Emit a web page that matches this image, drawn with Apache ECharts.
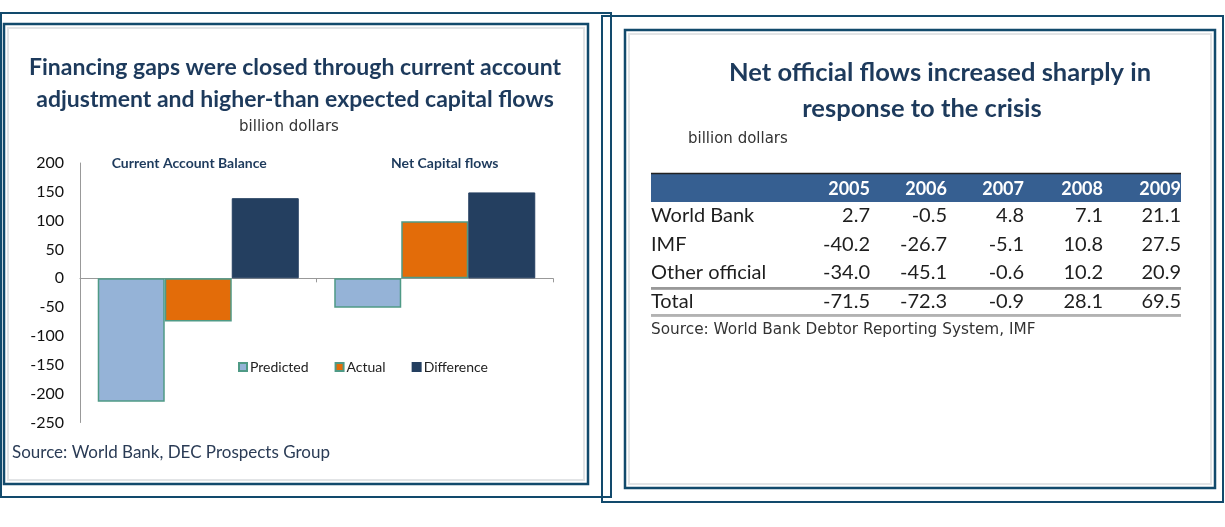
<!DOCTYPE html>
<html><head><meta charset="utf-8">
<script src="https://cdn.jsdelivr.net/npm/echarts@6/dist/echarts.min.js"></script>
<style>html,body{margin:0;padding:0;background:#fff}#c{width:1225px;height:527px}</style>
</head><body><div id="c"></div>
<script>
// ---- Left chart data ----
const groups = ['Current Account Balance', 'Net Capital flows'];
const seriesNames = ['Predicted', 'Actual', 'Difference'];
const predicted = [-214, -51];
const actual = [-75, 99];
const difference = [139, 149];

// ---- Right table data ----
const tableYears = ['2005', '2006', '2007', '2008', '2009'];
const tableRowNames = ['World Bank', 'IMF', 'Other official', 'Total'];
const worldBank = [2.7, -0.5, 4.8, 7.1, 21.1];
const imf = [-40.2, -26.7, -5.1, 10.8, 27.5];
const otherOfficial = [-34.0, -45.1, -0.6, 10.2, 20.9];
const total = [-71.5, -72.3, -0.9, 28.1, 69.5];

const NAVY = '#1d3a5c';
const FRAME = '#124a6c';
const FONT = 'Lato, "Open Sans", sans-serif';
const WIDE = '"DejaVu Sans", Verdana, sans-serif';

const chart = echarts.init(document.getElementById('c'), null, {renderer: 'canvas'});

const tableRows = [worldBank, imf, otherOfficial, total];
const colRight = [870, 947, 1024, 1103, 1181];
const rowY = [216, 244.5, 273, 302];

const els = [];
function rect(x, y, w, h, stroke, lw) {
  els.push({type: 'rect', silent: true, shape: {x, y, width: w, height: h},
    style: {fill: 'none', stroke, lineWidth: lw}});
}
function text(x, y, t, font, fill, align) {
  els.push({type: 'text', silent: true, x, y,
    style: {text: t, font, fill, align: align || 'left', verticalAlign: 'middle'}});
}
function line(x1, y1, x2, y2, stroke, lw) {
  els.push({type: 'line', silent: true, shape: {x1, y1, x2, y2}, style: {stroke, lineWidth: lw}});
}

// frames - left panel
rect(1, 13, 610, 484, FRAME, 2);
rect(4, 24, 584, 460, FRAME, 2.5);
rect(8, 28, 576, 452, '#e2e4e6', 2);
// frames - right panel
rect(602, 16, 621, 486, FRAME, 2);
rect(625, 30, 590, 458, FRAME, 2.5);
rect(629, 34, 582, 450, '#e2e4e6', 2);

// left texts
text(295, 68, 'Financing gaps were closed through current account', 'bold 23px ' + FONT, NAVY, 'center');
text(295, 100, 'adjustment and higher-than expected capital flows', 'bold 23px ' + FONT, NAVY, 'center');
text(289, 127, 'billion dollars', '15px ' + WIDE, '#333', 'center');
text(12, 453, 'Source: World Bank, DEC Prospects Group', '17px ' + FONT, '#2a3b55', 'left');

// right texts
text(940, 73, 'Net official flows increased sharply in', 'bold 25.5px ' + FONT, NAVY, 'center');
text(922, 109, 'response to the crisis', 'bold 25.5px ' + FONT, NAVY, 'center');
text(688, 139, 'billion dollars', '15px ' + WIDE, '#333', 'left');

// table header
els.push({type: 'rect', silent: true, shape: {x: 651, y: 174, width: 530, height: 28}, style: {fill: '#365f91'}});
line(651, 173.5, 1181, 173.5, '#222', 1.5);
tableYears.forEach((yr, i) => text(colRight[i], 189, yr, 'bold 18px ' + FONT, '#fff', 'right'));
// table body
tableRowNames.forEach((nm, r) => {
  text(651, rowY[r], nm, '20px ' + FONT, '#1e1e1e', 'left');
  tableRows[r].forEach((v, i) => text(colRight[i], rowY[r], v.toFixed(1), '20px ' + FONT, '#1e1e1e', 'right'));
});
line(651, 288, 1181, 288, '#333', 1);
line(651, 289.5, 1181, 289.5, '#aaa', 1);
line(651, 315, 1181, 315, '#666', 1);
line(651, 316.5, 1181, 316.5, '#bbb', 1);
text(651, 330, 'Source: World Bank Debtor Reporting System, IMF', '15.3px ' + WIDE, '#333', 'left');

const borderCol = '#4f9a86';

chart.setOption({
  animation: false,
  backgroundColor: '#fff',
  textStyle: {fontFamily: FONT},
  grid: {left: 80, top: 163, width: 473, height: 259.5, containLabel: false},
  legend: {
    data: seriesNames, left: 233, top: 355, itemWidth: 8, itemHeight: 8, itemGap: 26,
    icon: 'rect',
    textStyle: {fontSize: 14, color: '#222', fontFamily: FONT, padding: [0, 0, 0, -2]}
  },
  xAxis: [{
    type: 'category', data: groups,
    axisLine: {onZero: true, lineStyle: {color: '#999', width: 1}},
    axisTick: {show: true, length: 4, inside: false, lineStyle: {color: '#999'}},
    axisLabel: {show: false}, splitLine: {show: false}
  }, {
    type: 'category', data: groups, position: 'top',
    axisLine: {show: false}, axisTick: {show: false},
    axisLabel: {
      show: true, margin: 0, color: NAVY, fontWeight: 'bold', fontSize: 14, fontFamily: FONT, verticalAlign: 'middle',
      formatter: (v, i) => (i === 0 ? '{a|' + v + '}' : '{b|' + v + '}'),
      rich: {
        a: {color: NAVY, fontWeight: 'bold', fontSize: 14, fontFamily: FONT, padding: [0, 18, 0, 0]},
        b: {color: NAVY, fontWeight: 'bold', fontSize: 14, fontFamily: FONT, padding: [0, 0, 0, 20]}
      }
    }
  }],
  yAxis: {
    type: 'value', min: -250, max: 200, interval: 50,
    axisLine: {show: true, lineStyle: {color: '#999'}},
    axisTick: {show: false}, splitLine: {show: false},
    axisLabel: {fontSize: 16, color: '#111', margin: 16, fontFamily: FONT}
  },
  series: [
    {name: seriesNames[0], type: 'bar', data: predicted, barGap: '0%', barCategoryGap: '15%',
      itemStyle: {color: '#95b3d7', borderColor: borderCol, borderWidth: 1.5}},
    {name: seriesNames[1], type: 'bar', data: actual,
      itemStyle: {color: '#e36c09', borderColor: borderCol, borderWidth: 1.5}},
    {name: seriesNames[2], type: 'bar', data: difference,
      itemStyle: {color: '#243f60', borderColor: '#243f60', borderWidth: 1}}
  ],
  graphic: {elements: els}
});
</script></body></html>
